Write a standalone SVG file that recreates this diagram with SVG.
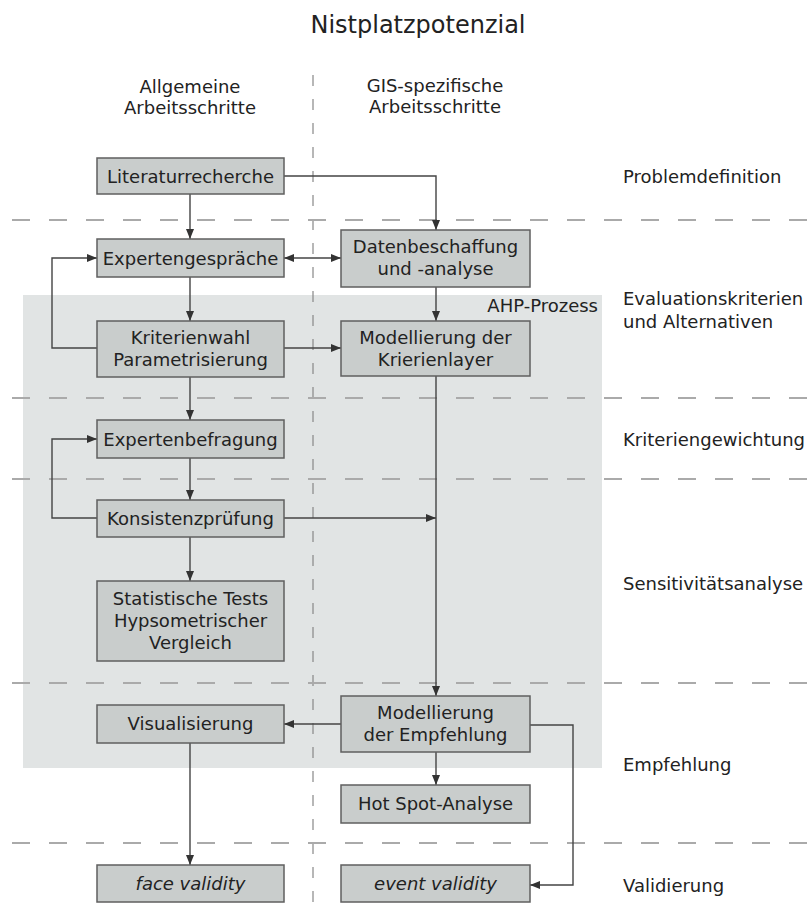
<svg xmlns="http://www.w3.org/2000/svg" width="812" height="903" viewBox="0 0 812 903">
<style>
text{font-family:"DejaVu Sans","Verdana",sans-serif;fill:#222;font-size:18px}
.c{text-anchor:middle}
.box{fill:#c9cdcc;stroke:#5f5f5f;stroke-width:1.5}
.hd{fill:none;stroke:#aaa;stroke-width:2;stroke-dasharray:18 19}
.vd{fill:none;stroke:#888;stroke-width:1.2;stroke-dasharray:11 13}
.ln{fill:none;stroke:#444;stroke-width:1.4}
.it{font-style:italic}
</style>
<defs>
<marker id="a" viewBox="0 0 10 8" refX="10" refY="4" markerWidth="10" markerHeight="8" markerUnits="userSpaceOnUse" orient="auto-start-reverse">
<path d="M0,0 L10,4 L0,8 z" fill="#333"/>
</marker>
</defs>
<rect width="812" height="903" fill="#fff"/>
<rect id="ahp" x="23" y="295" width="579" height="473" fill="#e1e4e4"/>
<text x="598" y="312" style="text-anchor:end">AHP-Prozess</text>
<text x="418" y="33" class="c" style="font-size:24px">Nistplatzpotenzial</text>
<text x="190" y="93" class="c">Allgemeine</text>
<text x="190" y="114" class="c">Arbeitsschritte</text>
<text x="435" y="92" class="c">GIS-spezifische</text>
<text x="435" y="113" class="c">Arbeitsschritte</text>
<g id="grid">
<line class="vd" x1="313" y1="75" x2="313" y2="903"/>
<line class="hd" x1="12" y1="220" x2="812" y2="220"/>
<line class="hd" x1="12" y1="398" x2="812" y2="398"/>
<line class="hd" x1="12" y1="479" x2="812" y2="479"/>
<line class="hd" x1="12" y1="683" x2="812" y2="683"/>
<line class="hd" x1="12" y1="843" x2="812" y2="843"/>
</g>
<g id="phases">
<text x="623" y="183">Problemdefinition</text>
<text x="623" y="305">Evaluationskriterien</text>
<text x="623" y="328">und Alternativen</text>
<text x="623" y="446">Kriteriengewichtung</text>
<text x="623" y="590">Sensitivitätsanalyse</text>
<text x="623" y="771">Empfehlung</text>
<text x="623" y="892">Validierung</text>
</g>
<g id="connectors">
<line class="ln" x1="190" y1="194" x2="190" y2="239" marker-end="url(#a)"/>
<path class="ln" d="M284,176 H436 V230" marker-end="url(#a)"/>
<line class="ln" x1="284" y1="258" x2="341" y2="258" marker-start="url(#a)" marker-end="url(#a)"/>
<line class="ln" x1="190" y1="277" x2="190" y2="321" marker-end="url(#a)"/>
<path class="ln" d="M97,348 H52 V258 H97" marker-end="url(#a)"/>
<line class="ln" x1="284" y1="348" x2="341" y2="348" marker-end="url(#a)"/>
<line class="ln" x1="436" y1="287" x2="436" y2="321" marker-end="url(#a)"/>
<line class="ln" x1="190" y1="377" x2="190" y2="420" marker-end="url(#a)"/>
<line class="ln" x1="190" y1="458" x2="190" y2="500" marker-end="url(#a)"/>
<path class="ln" d="M97,518 H52 V439 H97" marker-end="url(#a)"/>
<line class="ln" x1="284" y1="518" x2="436" y2="518" marker-end="url(#a)"/>
<line class="ln" x1="190" y1="537" x2="190" y2="581" marker-end="url(#a)"/>
<line class="ln" x1="436" y1="376" x2="436" y2="696" marker-end="url(#a)"/>
<line class="ln" x1="341" y1="724" x2="284" y2="724" marker-end="url(#a)"/>
<line class="ln" x1="436" y1="752" x2="436" y2="785" marker-end="url(#a)"/>
<path class="ln" d="M530,725 H573 V885 H530" marker-end="url(#a)"/>
<line class="ln" x1="190" y1="743" x2="190" y2="865" marker-end="url(#a)"/>
</g>
<g id="n1"><rect class="box" x="97" y="158" width="187" height="36"/><text x="190.5" y="183" class="c">Literaturrecherche</text></g>
<g id="n2"><rect class="box" x="97" y="239" width="187" height="38"/><text x="190.5" y="265" class="c">Expertengespräche</text></g>
<g id="n3"><rect class="box" x="97" y="321" width="187" height="56"/><text x="190.5" y="344" class="c">Kriterienwahl</text><text x="190.5" y="366" class="c">Parametrisierung</text></g>
<g id="n4"><rect class="box" x="341" y="230" width="189" height="57"/><text x="435.5" y="253" class="c">Datenbeschaffung</text><text x="435.5" y="275" class="c">und -analyse</text></g>
<g id="n5"><rect class="box" x="341" y="321" width="189" height="55"/><text x="435.5" y="344" class="c">Modellierung der</text><text x="435.5" y="366" class="c">Krierienlayer</text></g>
<g id="n6"><rect class="box" x="97" y="420" width="187" height="38"/><text x="190.5" y="446" class="c">Expertenbefragung</text></g>
<g id="n7"><rect class="box" x="97" y="500" width="187" height="37"/><text x="190.5" y="525" class="c">Konsistenzprüfung</text></g>
<g id="n8"><rect class="box" x="97" y="581" width="187" height="80"/><text x="190.5" y="605" class="c">Statistische Tests</text><text x="190.5" y="627" class="c">Hypsometrischer</text><text x="190.5" y="649" class="c">Vergleich</text></g>
<g id="n9"><rect class="box" x="97" y="705" width="187" height="38"/><text x="190.5" y="730" class="c">Visualisierung</text></g>
<g id="n10"><rect class="box" x="341" y="696" width="189" height="56"/><text x="435.5" y="719" class="c">Modellierung</text><text x="435.5" y="741" class="c">der Empfehlung</text></g>
<g id="n11"><rect class="box" x="341" y="785" width="189" height="38"/><text x="435.5" y="810" class="c">Hot Spot-Analyse</text></g>
<g id="n12"><rect class="box" x="97" y="865" width="187" height="37"/><text x="190.5" y="890" class="c it">face validity</text></g>
<g id="n13"><rect class="box" x="341" y="865" width="189" height="37"/><text x="435.5" y="890" class="c it">event validity</text></g>
</svg>
